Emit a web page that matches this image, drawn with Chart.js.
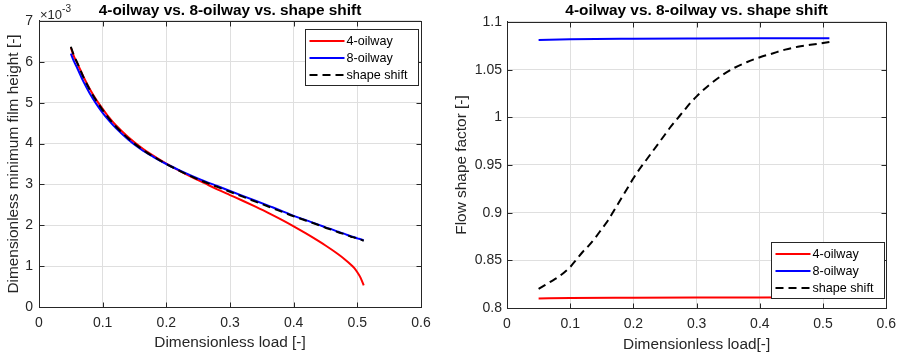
<!DOCTYPE html>
<html>
<head>
<meta charset="utf-8">
<title>4-oilway vs. 8-oilway vs. shape shift</title>
<script src="https://cdn.jsdelivr.net/npm/chart.js@4.4.1/dist/chart.umd.min.js"></script>
<style>
  html, body { margin: 0; padding: 0; background: #ffffff; }
  #wrap { position: relative; width: 904px; height: 358px; overflow: hidden; }
  canvas { position: absolute; top: 0; }
</style>
</head>
<body>
<div id="wrap">
  <canvas id="filmChart" width="450" height="358" style="left:0px"></canvas>
  <canvas id="flowChart" width="454" height="358" style="left:450px"></canvas>
</div>
<script>
// ---- Left panel: dimensionless minimum film height (values in units of 1e-3)
const filmLoads = [0.05, 0.055, 0.06, 0.07, 0.08, 0.09, 0.10, 0.11, 0.12, 0.14, 0.16, 0.18,
                   0.20, 0.22, 0.24, 0.26, 0.28, 0.30, 0.32, 0.34, 0.36, 0.38, 0.40, 0.42,
                   0.44, 0.45, 0.46, 0.47, 0.48, 0.49, 0.495, 0.50, 0.505, 0.51];
const film4Oilway = [6.35, 6.13, 5.97, 5.63, 5.33, 5.07, 4.85, 4.64, 4.46, 4.16, 3.91, 3.70,
                     3.51, 3.34, 3.18, 3.03, 2.88, 2.74, 2.60, 2.455, 2.305, 2.145, 1.975, 1.795,
                     1.605, 1.505, 1.40, 1.29, 1.17, 1.035, 0.955, 0.85, 0.72, 0.53];
const film8Oilway = [6.20, 6.01, 5.85, 5.51, 5.22, 4.97, 4.75, 4.56, 4.39, 4.10, 3.86, 3.67,
                     3.50, 3.35, 3.21, 3.08, 2.96, 2.84, 2.72, 2.60, 2.48, 2.36, 2.23, 2.12,
                     2.01, 1.95, 1.90, 1.84, 1.79, 1.73, 1.71, 1.68, 1.66, 1.63];
const filmShapeShift = [6.37, 6.15, 5.98, 5.62, 5.31, 5.05, 4.82, 4.61, 4.43, 4.13, 3.88, 3.68,
                        3.50, 3.34, 3.19, 3.06, 2.94, 2.82, 2.70, 2.58, 2.46, 2.34, 2.22, 2.11,
                        2.00, 1.94, 1.89, 1.83, 1.78, 1.72, 1.70, 1.67, 1.65, 1.62];

// ---- Right panel: flow shape factor
const flowLoadsFlat = [0.05, 0.10, 0.20, 0.30, 0.40, 0.51];
const flow4Oilway = [0.8100, 0.8105, 0.8108, 0.8110, 0.8111, 0.8112];
const flow8Oilway = [1.0810, 1.0818, 1.0824, 1.0827, 1.0829, 1.0830];
const flowLoads = [0.05, 0.06, 0.07, 0.08, 0.09, 0.10, 0.11, 0.12, 0.13, 0.14, 0.15, 0.16,
                   0.17, 0.18, 0.19, 0.20, 0.21, 0.22, 0.23, 0.24, 0.25, 0.26, 0.27, 0.28,
                   0.29, 0.30, 0.32, 0.34, 0.36, 0.38, 0.40, 0.42, 0.44, 0.46, 0.48, 0.50, 0.51];
const flowShapeShift = [0.820, 0.824, 0.828, 0.832, 0.837, 0.843, 0.851, 0.859, 0.866, 0.874,
                        0.883, 0.892, 0.903, 0.914, 0.925, 0.936, 0.946, 0.955, 0.964, 0.973,
                        0.982, 0.991, 0.999, 1.007, 1.015, 1.022, 1.034, 1.044, 1.052, 1.058,
                        1.063, 1.067, 1.071, 1.074, 1.076, 1.078, 1.079];

// ---- Ticks and legend entries
const loadTicks = [0, 0.1, 0.2, 0.3, 0.4, 0.5, 0.6];
const filmTicks = [0, 1, 2, 3, 4, 5, 6, 7];
const flowTicks = [0.8, 0.85, 0.9, 0.95, 1, 1.05, 1.1];
const seriesNames = ['4-oilway', '8-oilway', 'shape shift'];
const seriesColors = ['#ff0000', '#0000ff', '#000000'];

const FONT = '"Liberation Sans", Arial, Helvetica, sans-serif';
const AXIS_COLOR = '#262626';
const GRID_COLOR = '#dfdfdf';
const DASH = [8, 5];

function fmt(v) { return String(Math.round(v * 100) / 100); }

function series(xs, ys, i) {
  return {
    label: seriesNames[i],
    data: xs.map((x, k) => ({ x: x, y: ys[k] })),
    borderColor: seriesColors[i],
    backgroundColor: seriesColors[i],
    borderWidth: 2,
    borderDash: i === 2 ? DASH : [],
    borderCapStyle: 'butt',
    pointRadius: 0,
    pointHoverRadius: 0,
    showLine: true,
    fill: false,
    cubicInterpolationMode: 'monotone',
    order: 3 - i
  };
}

// Axes box with inward tick marks, in-plot legend and optional exponent label
const decorations = {
  id: 'decorations',
  afterDraw(chart, args, opts) {
    const ctx = chart.ctx;
    const ca = chart.chartArea;
    const xs = chart.scales.x, ys = chart.scales.y;
    const L = Math.round(ca.left) + 0.5, R = Math.round(ca.right) + 0.5;
    const T = Math.round(ca.top) + 0.5, B = Math.round(ca.bottom) + 0.5;
    ctx.save();
    ctx.strokeStyle = AXIS_COLOR;
    ctx.lineWidth = 1;
    ctx.setLineDash([]);
    ctx.strokeRect(L, T, R - L, B - T);
    const tl = 5;
    ctx.beginPath();
    opts.xTicks.forEach(v => {
      const px = Math.round(xs.getPixelForValue(v)) + 0.5;
      ctx.moveTo(px, B); ctx.lineTo(px, B - tl);
      ctx.moveTo(px, T); ctx.lineTo(px, T + tl);
    });
    opts.yTicks.forEach(v => {
      const py = Math.round(ys.getPixelForValue(v)) + 0.5;
      ctx.moveTo(L, py); ctx.lineTo(L + tl, py);
      ctx.moveTo(R, py); ctx.lineTo(R - tl, py);
    });
    ctx.stroke();

    // legend
    const lg = opts.legend;
    ctx.font = '12.6px ' + FONT;
    let maxW = 0;
    seriesNames.forEach(n => { maxW = Math.max(maxW, ctx.measureText(n).width); });
    const lineLen = 35, rowH = 17;
    const w = Math.round(4 + lineLen + 2 + maxW + 11);
    const h = 3 * rowH + 5;
    const bx = Math.round(ca.right - lg.right - w) + 0.5;
    const by = (lg.top !== undefined ? Math.round(ca.top + lg.top) : Math.round(ca.bottom - lg.bottom - h)) + 0.5;
    ctx.fillStyle = '#ffffff';
    ctx.fillRect(bx, by, w, h);
    ctx.strokeStyle = AXIS_COLOR;
    ctx.strokeRect(bx, by, w, h);
    seriesNames.forEach((n, i) => {
      const cy = by + 11.5 + i * rowH;
      ctx.beginPath();
      ctx.strokeStyle = seriesColors[i];
      ctx.lineWidth = 2;
      ctx.setLineDash(i === 2 ? DASH : []);
      ctx.moveTo(bx + 4, cy);
      ctx.lineTo(bx + 4 + lineLen, cy);
      ctx.stroke();
      ctx.setLineDash([]);
      ctx.fillStyle = '#000000';
      ctx.textAlign = 'left';
      ctx.textBaseline = 'middle';
      ctx.fillText(n, bx + 4 + lineLen + 2, cy + 0.5);
    });

    // axis multiplier
    if (opts.exponent) {
      ctx.fillStyle = AXIS_COLOR;
      ctx.textAlign = 'left';
      ctx.textBaseline = 'alphabetic';
      ctx.font = '13px ' + FONT;
      ctx.fillText('\u00d710', ca.left + 1, 18.5);
      const wx = ctx.measureText('\u00d710').width;
      ctx.font = '10px ' + FONT;
      ctx.fillText(opts.exponent, ca.left + 1 + wx, 12);
    }
    ctx.restore();
  }
};

function makeChart(canvasId, cfg) {
  const canvas = document.getElementById(canvasId);
  const H = canvas.height;
  return new Chart(canvas, {
    type: 'scatter',
    data: { datasets: cfg.datasets },
    plugins: [decorations],
    options: {
      responsive: false,
      maintainAspectRatio: false,
      animation: false,
      devicePixelRatio: 1,
      layout: { padding: { left: 0, right: cfg.padRight, top: 0, bottom: 0 } },
      plugins: {
        legend: { display: false },
        tooltip: { enabled: false },
        title: {
          display: true,
          text: '4-oilway vs. 8-oilway vs. shape shift',
          fullSize: false,
          color: '#000000',
          font: { family: FONT, size: 15.4, weight: 'bold', lineHeight: 1.2 },
          padding: { top: 2, bottom: cfg.titleBottom }
        },
        decorations: { xTicks: loadTicks, yTicks: cfg.yTicks, legend: cfg.legend, exponent: cfg.exponent }
      },
      scales: {
        x: {
          type: 'linear',
          min: 0, max: 0.6,
          afterBuildTicks: s => { s.ticks = loadTicks.map(v => ({ value: v })); },
          afterFit: s => { s.height = H - cfg.bottom; },
          grid: { color: GRID_COLOR, lineWidth: 1, drawTicks: false },
          border: { display: true, color: AXIS_COLOR, width: 1 },
          ticks: {
            color: AXIS_COLOR, font: { family: FONT, size: 14 }, padding: 8,
            maxRotation: 0, autoSkip: false, callback: v => fmt(v)
          },
          title: {
            display: true, text: cfg.xTitle, color: AXIS_COLOR,
            font: { family: FONT, size: 15.4, lineHeight: 1.2 },
            padding: { top: 0, bottom: cfg.xTitlePad }
          }
        },
        y: {
          type: 'linear',
          min: cfg.yTicks[0], max: cfg.yTicks[cfg.yTicks.length - 1],
          afterBuildTicks: s => { s.ticks = cfg.yTicks.map(v => ({ value: v })); },
          afterFit: s => { s.width = cfg.left; },
          grid: { color: GRID_COLOR, lineWidth: 1, drawTicks: false },
          border: { display: true, color: AXIS_COLOR, width: 1 },
          ticks: {
            color: AXIS_COLOR, font: { family: FONT, size: 14 }, padding: cfg.yTickPad,
            autoSkip: false, callback: v => fmt(v)
          },
          title: {
            display: true, text: cfg.yTitle, color: AXIS_COLOR,
            font: { family: FONT, size: 15.4, lineHeight: 1.2 },
            padding: { top: cfg.yTitlePad, bottom: 0 }
          }
        }
      }
    }
  });
}

makeChart('filmChart', {
  datasets: [
    series(filmLoads, film4Oilway, 0),
    series(filmLoads, film8Oilway, 1),
    series(filmLoads, filmShapeShift, 2)
  ],
  yTicks: filmTicks,
  left: 39, bottom: 307, padRight: 29, titleBottom: 0.5,
  xTitle: 'Dimensionless load [-]',
  yTitle: 'Dimensionless minimum film height [-]',
  xTitlePad: 6, yTitlePad: 5, yTickPad: 6,
  legend: { right: 3, top: 8 },
  exponent: '-3'
});

makeChart('flowChart', {
  datasets: [
    series(flowLoadsFlat, flow4Oilway, 0),
    series(flowLoadsFlat, flow8Oilway, 1),
    series(flowLoads, flowShapeShift, 2)
  ],
  yTicks: flowTicks,
  left: 57, bottom: 308, padRight: 14, titleBottom: 1.5,
  xTitle: 'Dimensionless load[-]',
  yTitle: 'Flow shape factor [-]',
  xTitlePad: 4, yTitlePad: 2.5, yTickPad: 5,
  legend: { right: 2, bottom: 10 },
  exponent: null
});
</script>
</body>
</html>
